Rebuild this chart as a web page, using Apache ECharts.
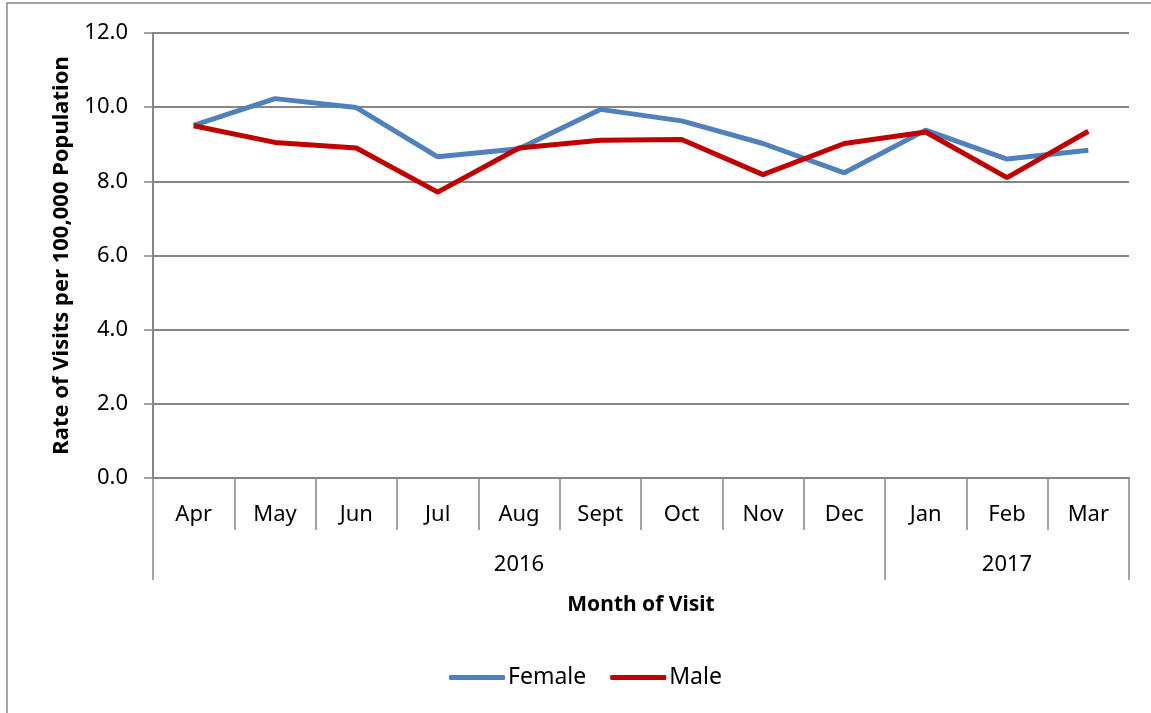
<!DOCTYPE html>
<html>
<head>
<meta charset="utf-8">
<script src="https://cdn.jsdelivr.net/npm/echarts@6/dist/echarts.min.js"></script>
<style>
  html, body { margin: 0; padding: 0; background: #fff; }
  #chart { width: 1151px; height: 713px; }
</style>
</head>
<body>
<div id="chart"></div>
<script>
// months and their year groups
const months = ["Apr", "May", "Jun", "Jul", "Aug", "Sept", "Oct", "Nov", "Dec", "Jan", "Feb", "Mar"];
const yearLabels = ["", "", "", "", "2016", "", "", "", "", "", "2017", ""];
const yearStarts = [0, 9, 12]; // boundaries between year groups

// rate of visits per 100,000
const female = [9.51, 10.23, 9.99, 8.66, 8.88, 9.94, 9.63, 9.02, 8.23, 9.38, 8.60, 8.84];
const male = [9.50, 9.05, 8.90, 7.71, 8.90, 9.11, 9.13, 8.18, 9.02, 9.33, 8.10, 9.35];

const yTicks = { min: 0, max: 12, interval: 2 };

const font = "'Noto Sans', 'Open Sans', sans-serif";
const gray = "#868686";

const myChart = echarts.init(document.getElementById("chart"));

const option = {
  animation: false,
  textStyle: { fontFamily: font, color: "#000" },
  graphic: [
    {
      type: "rect",
      shape: { x: 7, y: 3, width: 1160, height: 730 },
      style: { fill: "none", stroke: "#888", lineWidth: 1.5 },
      silent: true,
    },
  ],
  grid: {
    left: 153,
    right: 22,
    top: 33,
    bottom: 235,
  },
  legend: {
    data: ["Female", "Male"],
    bottom: 19,
    left: 444,
    icon: "roundRect",
    itemWidth: 56,
    itemHeight: 5,
    itemGap: 24,
    textStyle: { fontSize: 23, fontFamily: font, color: "#000", padding: [0, 0, 0, -2] },
  },
  xAxis: [
    {
      type: "category",
      data: months,
      boundaryGap: true,
      axisLine: { lineStyle: { color: gray, width: 2 } },
      axisTick: {
        show: true,
        interval: 0,
        length: 52,
        lineStyle: { color: gray, width: 1.5 },
      },
      axisLabel: { interval: 0, margin: 26, fontSize: 22, color: "#000", fontFamily: font },
      name: "Month of Visit",
      nameLocation: "middle",
      nameGap: 117,
      nameTextStyle: { fontSize: 21, fontWeight: "bold", color: "#000", fontFamily: font },
    },
    {
      type: "category",
      data: yearLabels,
      position: "bottom",
      boundaryGap: true,
      axisLine: { show: false },
      axisTick: {
        show: true,
        interval: function (index) {
          return yearStarts.indexOf(index) !== -1;
        },
        length: 102,
        lineStyle: { color: gray, width: 1.5 },
      },
      axisLabel: { interval: 0, margin: 76, fontSize: 22, color: "#000", fontFamily: font },
    },
  ],
  yAxis: {
    type: "value",
    min: yTicks.min,
    max: yTicks.max,
    interval: yTicks.interval,
    axisLine: { show: true, lineStyle: { color: gray, width: 2 } },
    axisTick: { show: true, length: 9, lineStyle: { color: gray, width: 1.5 } },
    axisLabel: {
      margin: 25,
      fontSize: 22,
      color: "#000",
      fontFamily: font,
      formatter: (v) => v.toFixed(1),
    },
    splitLine: { show: true, lineStyle: { color: gray, width: 2 } },
    name: "Rate of Visits per 100,000 Population",
    nameLocation: "middle",
    nameGap: 80,
    nameRotate: 90,
    nameTextStyle: { fontSize: 22, fontWeight: "bold", color: "#000", fontFamily: font },
  },
  series: [
    {
      name: "Female",
      type: "line",
      data: female,
      symbol: "none",
      lineStyle: { color: "#4F81BD", width: 5 },
      itemStyle: { color: "#4F81BD" },
    },
    {
      name: "Male",
      type: "line",
      data: male,
      symbol: "none",
      lineStyle: { color: "#C00000", width: 5 },
      itemStyle: { color: "#C00000" },
    },
  ],
};

myChart.setOption(option);
window.addEventListener("resize", () => myChart.resize());
</script>
</body>
</html>
